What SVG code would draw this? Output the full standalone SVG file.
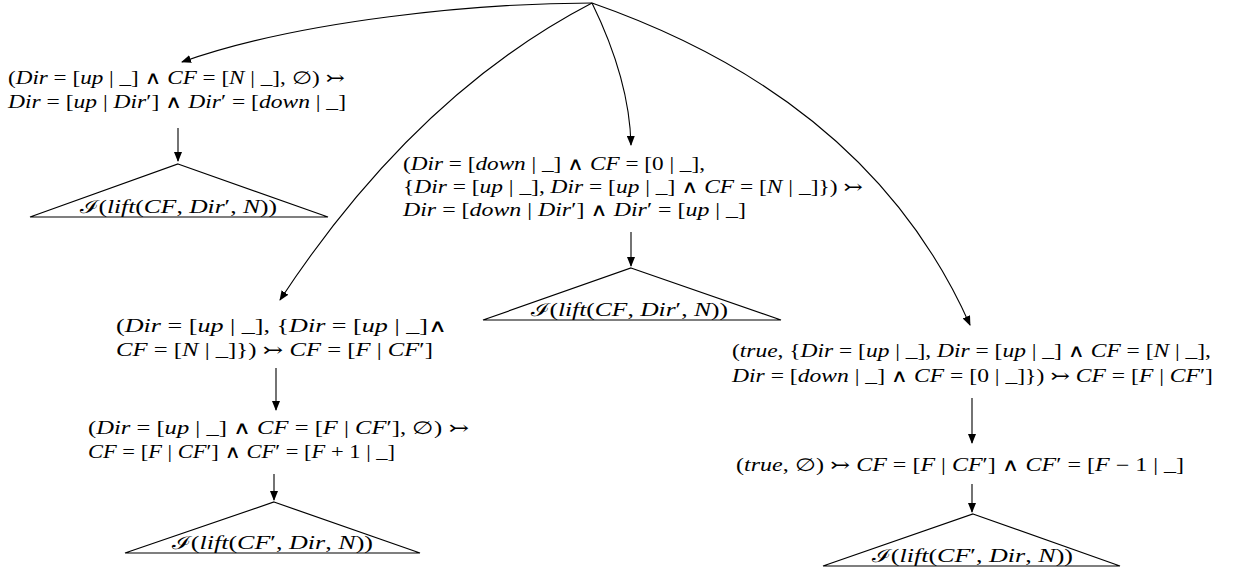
<svg xmlns="http://www.w3.org/2000/svg" width="1238" height="576" viewBox="0 0 1238 576">
<style>
text{font-family:"Liberation Serif","DejaVu Serif",serif;font-size:18px;fill:#000}
.i{font-style:italic}
.e{fill:none;stroke:#000;stroke-width:1.1}
.tri{fill:none;stroke:#000;stroke-width:1.2}
</style>
<defs>
<marker id="ah" markerWidth="10" markerHeight="8" refX="9" refY="4" orient="auto" markerUnits="userSpaceOnUse">
<path d="M0,0 L10,4 L0,8 Z" fill="#000"/>
</marker>
</defs>
<rect width="1238" height="576" fill="#fff"/>
<g id="connectors">
<path class="e" d="M592,3 C480,3 300,20 182,62" marker-end="url(#ah)"/>
<path class="e" d="M592,3 Q415,95 280,300" marker-end="url(#ah)"/>
<path class="e" d="M592,3 C615,50 630,100 631,145" marker-end="url(#ah)"/>
<path class="e" d="M592,3 Q870,100 970,325" marker-end="url(#ah)"/>
<path class="e" d="M178,128 L178,161" marker-end="url(#ah)"/>
<path class="e" d="M631,232 L631,266" marker-end="url(#ah)"/>
<path class="e" d="M276,368 L276,410" marker-end="url(#ah)"/>
<path class="e" d="M274,474 L274,500" marker-end="url(#ah)"/>
<path class="e" d="M972,398 L972,443" marker-end="url(#ah)"/>
<path class="e" d="M972,484 L972,512" marker-end="url(#ah)"/>
</g>
<g id="n1">
<text x="8" y="84" textLength="337" lengthAdjust="spacingAndGlyphs">(<tspan class="i">Dir</tspan> = [<tspan class="i">up</tspan> | _] ∧ <tspan class="i">CF</tspan> = [<tspan class="i">N</tspan> | _], ∅) ↣</text>
<text x="8" y="108" textLength="338" lengthAdjust="spacingAndGlyphs"><tspan class="i">Dir</tspan> = [<tspan class="i">up</tspan> | <tspan class="i">Dir</tspan>′] ∧ <tspan class="i">Dir</tspan>′ = [<tspan class="i">down</tspan> | _]</text>
</g>
<g id="t1">
<path class="tri" d="M178,164 L328,217 L30,217 Z"/>
<text x="80" y="213" textLength="197" lengthAdjust="spacingAndGlyphs">ℐ(<tspan class="i">lift</tspan>(<tspan class="i">CF</tspan>, <tspan class="i">Dir</tspan>′, <tspan class="i">N</tspan>))</text>
</g>
<g id="n2">
<text x="403" y="170" textLength="302" lengthAdjust="spacingAndGlyphs">(<tspan class="i">Dir</tspan> = [<tspan class="i">down</tspan> | _] ∧ <tspan class="i">CF</tspan> = [0 | _],</text>
<text x="403" y="193" textLength="460" lengthAdjust="spacingAndGlyphs">{<tspan class="i">Dir</tspan> = [<tspan class="i">up</tspan> | _], <tspan class="i">Dir</tspan> = [<tspan class="i">up</tspan> | _] ∧ <tspan class="i">CF</tspan> = [<tspan class="i">N</tspan> | _]}) ↣</text>
<text x="403" y="216" textLength="343" lengthAdjust="spacingAndGlyphs"><tspan class="i">Dir</tspan> = [<tspan class="i">down</tspan> | <tspan class="i">Dir</tspan>′] ∧ <tspan class="i">Dir</tspan>′ = [<tspan class="i">up</tspan> | _]</text>
</g>
<g id="t2">
<path class="tri" d="M631,268 L781,320 L483,320 Z"/>
<text x="531" y="316" textLength="197" lengthAdjust="spacingAndGlyphs">ℐ(<tspan class="i">lift</tspan>(<tspan class="i">CF</tspan>, <tspan class="i">Dir</tspan>′, <tspan class="i">N</tspan>))</text>
</g>
<g id="n3">
<text x="116" y="332" textLength="331" lengthAdjust="spacingAndGlyphs">(<tspan class="i">Dir</tspan> = [<tspan class="i">up</tspan> | _], {<tspan class="i">Dir</tspan> = [<tspan class="i">up</tspan> | _]∧</text>
<text x="116" y="356" textLength="317" lengthAdjust="spacingAndGlyphs"><tspan class="i">CF</tspan> = [<tspan class="i">N</tspan> | _]}) ↣ <tspan class="i">CF</tspan> = [<tspan class="i">F</tspan> | <tspan class="i">CF</tspan>′]</text>
</g>
<g id="n4">
<text x="88" y="434" textLength="381" lengthAdjust="spacingAndGlyphs">(<tspan class="i">Dir</tspan> = [<tspan class="i">up</tspan> | _] ∧ <tspan class="i">CF</tspan> = [<tspan class="i">F</tspan> | <tspan class="i">CF</tspan>′], ∅) ↣</text>
<text x="88" y="458" textLength="307" lengthAdjust="spacingAndGlyphs"><tspan class="i">CF</tspan> = [<tspan class="i">F</tspan> | <tspan class="i">CF</tspan>′] ∧ <tspan class="i">CF</tspan>′ = [<tspan class="i">F</tspan> + 1 | _]</text>
</g>
<g id="t3">
<path class="tri" d="M274,502 L420,553 L125,553 Z"/>
<text x="172" y="549" textLength="201" lengthAdjust="spacingAndGlyphs">ℐ(<tspan class="i">lift</tspan>(<tspan class="i">CF</tspan>′, <tspan class="i">Dir</tspan>, <tspan class="i">N</tspan>))</text>
</g>
<g id="n5">
<text x="732" y="357" textLength="479" lengthAdjust="spacingAndGlyphs">(<tspan class="i">true</tspan>, {<tspan class="i">Dir</tspan> = [<tspan class="i">up</tspan> | _], <tspan class="i">Dir</tspan> = [<tspan class="i">up</tspan> | _] ∧ <tspan class="i">CF</tspan> = [<tspan class="i">N</tspan> | _],</text>
<text x="732" y="382" textLength="481" lengthAdjust="spacingAndGlyphs"><tspan class="i">Dir</tspan> = [<tspan class="i">down</tspan> | _] ∧ <tspan class="i">CF</tspan> = [0 | _]}) ↣ <tspan class="i">CF</tspan> = [<tspan class="i">F</tspan> | <tspan class="i">CF</tspan>′]</text>
</g>
<g id="n6">
<text x="736" y="471" textLength="448" lengthAdjust="spacingAndGlyphs">(<tspan class="i">true</tspan>, ∅) ↣ <tspan class="i">CF</tspan> = [<tspan class="i">F</tspan> | <tspan class="i">CF</tspan>′] ∧ <tspan class="i">CF</tspan>′ = [<tspan class="i">F</tspan> − 1 | _]</text>
</g>
<g id="t4">
<path class="tri" d="M973,514 L1120,566 L823,566 Z"/>
<text x="872" y="562" textLength="201" lengthAdjust="spacingAndGlyphs">ℐ(<tspan class="i">lift</tspan>(<tspan class="i">CF</tspan>′, <tspan class="i">Dir</tspan>, <tspan class="i">N</tspan>))</text>
</g>
</svg>
